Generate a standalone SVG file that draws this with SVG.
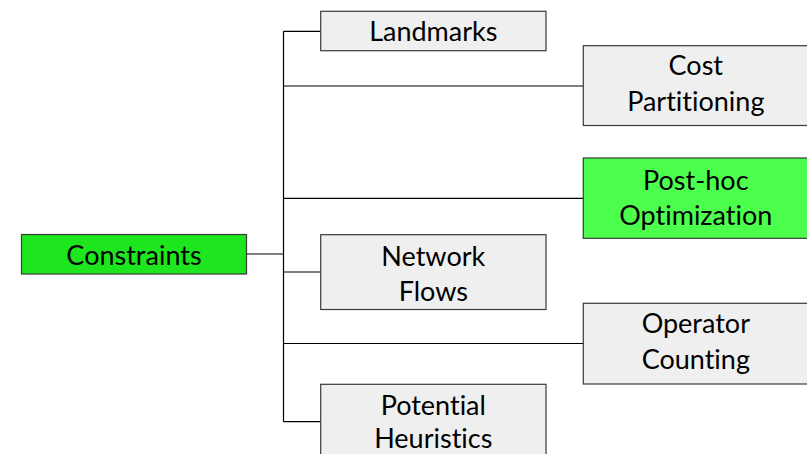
<svg xmlns="http://www.w3.org/2000/svg" width="807" height="454" viewBox="0 0 807 454">
<style>
.box{stroke:#3a3a3a;stroke-width:1.2}
.grey{fill:#efefef}
.t{font-family:Lato,"Liberation Sans",sans-serif;font-size:27px;fill:#000;text-anchor:middle;font-variant-ligatures:none;font-feature-settings:"liga" 0,"clig" 0}
.c{stroke:#000;stroke-width:1.2;fill:none}
</style>
<rect width="807" height="454" fill="#fff"/>
<g id="connectors">
<path class="c" d="M246.5 254H283.5M283.5 31.3V421.7M283.5 31.3H320.7M283.5 86H583.3M283.5 198.3H583.3M283.5 272H320.7M283.5 343.5H583.3M283.5 421.7H320.7"/>
</g>
<g id="constraints">
<rect class="box" x="21.5" y="234.5" width="225" height="39.5" fill="#1ee61e"/>
<text class="t" x="134" y="265">Constraints</text>
</g>
<g id="landmarks">
<rect class="box grey" x="320.7" y="11.3" width="225.3" height="39.4"/>
<text class="t" x="433.3" y="41">Landmarks</text>
</g>
<g id="cost-partitioning">
<rect class="box grey" x="583.3" y="45.7" width="225" height="79.8"/>
<text class="t" x="695.8" y="75">Cost</text>
<text class="t" x="695.8" y="111">Partitioning</text>
</g>
<g id="post-hoc">
<rect class="box" x="583.3" y="158" width="225" height="80.3" fill="#4dff4d"/>
<text class="t" x="695.8" y="189.5">Post-hoc</text>
<text class="t" x="695.8" y="225.3">Optimization</text>
</g>
<g id="network-flows">
<rect class="box grey" x="320.7" y="234.7" width="225.3" height="74.8"/>
<text class="t" x="433.3" y="265.7">Network</text>
<text class="t" x="433.3" y="300.7">Flows</text>
</g>
<g id="operator-counting">
<rect class="box grey" x="583.3" y="303.3" width="225" height="80.7"/>
<text class="t" x="695.8" y="333">Operator</text>
<text class="t" x="695.8" y="368.7">Counting</text>
</g>
<g id="potential-heuristics">
<rect class="box grey" x="320.7" y="384.3" width="225.3" height="75"/>
<text class="t" x="433.3" y="415">Potential</text>
<text class="t" x="433.3" y="448">Heuristics</text>
</g>
</svg>
